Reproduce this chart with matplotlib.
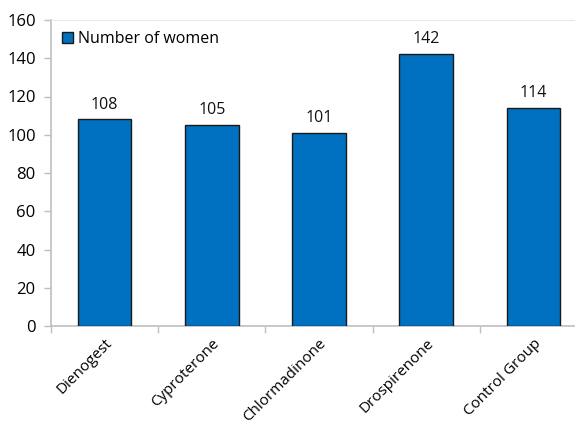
import matplotlib
matplotlib.use("Agg")
import matplotlib.pyplot as plt

categories = ["Dienogest", "Cyproterone", "Chlormadinone", "Drospirenone", "Control Group"]
values = [108, 105, 101, 142, 114]
series_name = "Number of women"
yticks = [0, 20, 40, 60, 80, 100, 120, 140, 160]

plt.rcParams['font.family'] = ['Open Sans', 'DejaVu Sans']

fig = plt.figure(figsize=(5.75, 4.28), dpi=100)
ax = fig.add_axes([51/575, 102/428, 536/575, 306/428])

x = list(range(len(categories)))
bars = ax.bar(x, values, width=0.5, color="#0070C0", edgecolor="#1a1a1a",
              linewidth=1.0, label=series_name, zorder=3)
for xi, v in zip(x, values):
    ax.annotate(str(v), (xi, v), xytext=(0, 5), textcoords="offset points",
                ha="center", va="bottom", fontsize=11.5, color="#111111")

ax.set_xlim(-0.5, len(categories) - 0.5)
ax.set_ylim(0, 160)
ax.set_yticks(yticks)
ax.set_yticklabels([str(t) for t in yticks], fontsize=12)
ax.set_xticks(x)
ax.set_xticklabels(categories, rotation=45, ha="right", rotation_mode="anchor", fontsize=11)
ax.tick_params(axis="x", length=0, pad=7)
ax.set_xticks([i - 0.5 for i in range(len(categories) + 1)], minor=True)
ax.tick_params(axis="x", which="minor", length=5, color="#BFBFBF", width=1)
ax.tick_params(axis="y", length=5, color="#BFBFBF", width=1, pad=6)

for s in ["left", "bottom"]:
    ax.spines[s].set_color("#BFBFBF")
    ax.spines[s].set_linewidth(1.2)
ax.spines["top"].set_color("#E8E8E8")
ax.spines["right"].set_visible(False)

leg = ax.legend(loc="upper left", frameon=False, fontsize=11.5, handlelength=0.7,
                handleheight=0.7, handletextpad=0.3, borderaxespad=0.3,
                bbox_to_anchor=(0.0, 1.0))

fig.savefig("out.png", dpi=100)
